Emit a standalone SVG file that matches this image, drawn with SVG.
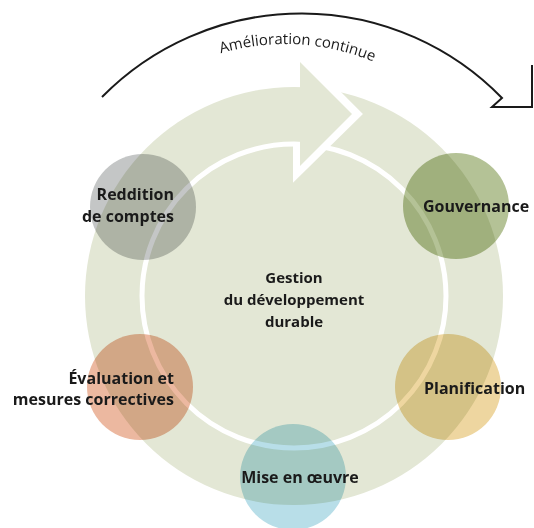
<svg xmlns="http://www.w3.org/2000/svg" width="534" height="528" viewBox="0 0 534 528">
  <defs>
    <style>
      .lbl { font-family: "Open Sans", "Liberation Sans", sans-serif; font-weight: 700; font-size: 16px; fill: #1a1a1a; }
      .ctr { font-family: "Open Sans", "Liberation Sans", sans-serif; font-weight: 700; font-size: 15px; fill: #1a1a1a; }
      .node { mix-blend-mode: multiply; }
      .arc { fill: none; stroke: #1a1a1a; stroke-width: 2; }
      .cap { font-family: "Open Sans", "Liberation Sans", sans-serif; font-size: 15px; fill: #1a1a1a; }
    </style>
    <path id="capPath" d="M 109,126 A 230,230 0 0 1 461,126"/>
  </defs>
  <rect width="534" height="528" fill="#ffffff"/>

  <!-- background cycle -->
  <g id="cycle">
    <circle cx="294" cy="296" r="209" fill="#e3e7d5"/>
    <circle cx="294" cy="296" r="152" fill="none" stroke="#ffffff" stroke-width="5"/>
    <path d="M 300,143 L 300,166 L 353,114 L 300,61" fill="none" stroke="#ffffff" stroke-width="14" stroke-linejoin="miter"/>
    <polygon points="300,62 352,114 300,166" fill="#e3e7d5"/>
  </g>

  <g id="connectors">
    <path class="arc" d="M 102,97 A 280,280 0 0 1 502,98 L 492,107 L 532,107 L 532,65"/>
    <text class="cap"><textPath href="#capPath" startOffset="213" text-anchor="middle">Amélioration continue</textPath></text>
  </g>

  <g id="reddition">
    <circle class="node" cx="143" cy="207" r="53" fill="#c4c6c6"/>
    <text class="lbl" x="174" y="200" text-anchor="end">Reddition</text>
    <text class="lbl" x="174" y="222" text-anchor="end">de comptes</text>
  </g>
  <g id="gouvernance">
    <circle class="node" cx="456" cy="206" r="53" fill="#b4c296"/>
    <text class="lbl" x="423" y="212">Gouvernance</text>
  </g>
  <g id="planification">
    <circle class="node" cx="448" cy="387" r="53" fill="#eed6a0"/>
    <text class="lbl" x="424" y="394">Planification</text>
  </g>
  <g id="mise">
    <circle class="node" cx="293" cy="477" r="53" fill="#b8dee8"/>
    <text class="lbl" x="300" y="483" text-anchor="middle">Mise en œuvre</text>
  </g>
  <g id="evaluation">
    <circle class="node" cx="140" cy="387" r="53" fill="#ecb8a0"/>
    <text class="lbl" x="174" y="384" text-anchor="end">Évaluation et</text>
    <text class="lbl" x="174" y="405" text-anchor="end">mesures correctives</text>
  </g>
  <g id="gestion">
    <text class="ctr" x="294" y="283" text-anchor="middle">Gestion</text>
    <text class="ctr" x="294" y="305" text-anchor="middle">du développement</text>
    <text class="ctr" x="294" y="327" text-anchor="middle">durable</text>
  </g>
</svg>
